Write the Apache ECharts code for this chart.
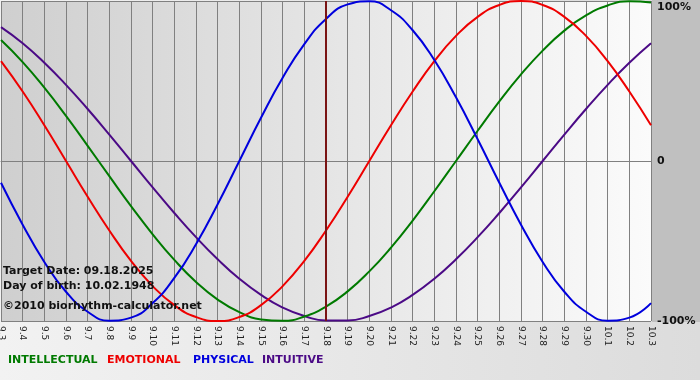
<!DOCTYPE html>
<html>
<head>
<meta charset="utf-8">
<script src="https://cdn.jsdelivr.net/npm/echarts@6/dist/echarts.min.js"></script>
<style>
html,body{margin:0;padding:0;background:#ffffff;}
#chart{width:700px;height:380px;}
</style>
</head>
<body>
<div id="chart"></div>
<script>
var dates = ['9.3','9.4','9.5','9.6','9.7','9.8','9.9','9.10','9.11','9.12','9.13','9.14','9.15','9.16','9.17','9.18','9.19','9.20','9.21','9.22','9.23','9.24','9.25','9.26','9.27','9.28','9.29','9.30','10.1','10.2','10.3'];
var intellectual = [0.756,0.618,0.458,0.282,0.095,-0.095,-0.282,-0.458,-0.618,-0.756,-0.866,-0.945,-0.990,-0.999,-0.972,-0.910,-0.815,-0.690,-0.541,-0.372,-0.189,0,0.189,0.372,0.541,0.690,0.815,0.910,0.972,0.999,0.990];
var emotional = [0.624,0.434,0.223,0,-0.223,-0.434,-0.624,-0.782,-0.901,-0.975,-1,-0.975,-0.901,-0.782,-0.624,-0.434,-0.223,0,0.223,0.434,0.624,0.782,0.901,0.975,1,0.975,0.901,0.782,0.624,0.434,0.223];
var physical = [-0.136,-0.398,-0.631,-0.817,-0.942,-0.998,-0.979,-0.888,-0.731,-0.520,-0.270,0,0.270,0.520,0.731,0.888,0.979,0.998,0.942,0.817,0.631,0.398,0.136,-0.136,-0.398,-0.631,-0.817,-0.942,-0.998,-0.979,-0.888];
var intuitive = [0.837,0.736,0.614,0.476,0.325,0.165,0,-0.165,-0.325,-0.476,-0.614,-0.736,-0.837,-0.916,-0.969,-0.997,-0.997,-0.969,-0.916,-0.837,-0.736,-0.614,-0.476,-0.325,-0.165,0,0.165,0.325,0.476,0.614,0.736];
var yTickLabels = ['-100%','0','100%'];
var targetDate = '9.18';
var infoLines = ['Target Date: 09.18.2025','Day of birth: 10.02.1948','\u00a92010 biorhythm-calculator.net'];
var legendNames = ['INTELLECTUAL','EMOTIONAL','PHYSICAL','INTUITIVE'];
var colors = ['#007a00','#ee0000','#0000dd','#4b0a86'];

var chart = echarts.init(document.getElementById('chart'), null, {renderer:'canvas'});
var FONT = '"DejaVu Sans", Verdana, sans-serif';

function mkSeries(name, data, color, extra){
  var s = {
    name: name, type: 'line', data: data, smooth: true, showSymbol: false,
    lineStyle: {color: color, width: 2}, itemStyle: {color: color}, z: 3
  };
  if (extra) for (var k in extra) s[k] = extra[k];
  return s;
}

var legendX = [8, 107, 193, 262];
var graphics = [
  {type:'rect', left: 652, top: 0, z: -1, silent: true, shape:{width: 48, height: 322}, style:{fill:'#c0c0c0'}},
  {type:'text', left: 3, top: 266, z: 10, style:{text: infoLines[0], font: 'bold 11px ' + FONT, fill:'#111'}},
  {type:'text', left: 3, top: 281, z: 10, style:{text: infoLines[1], font: 'bold 11px ' + FONT, fill:'#111'}},
  {type:'text', left: 3, top: 301, z: 10, style:{text: infoLines[2], font: 'bold 11px ' + FONT, fill:'#111'}}
];
for (var i = 0; i < legendNames.length; i++) {
  graphics.push({type:'text', left: legendX[i], top: 355, z: 10,
    style:{text: legendNames[i], font: 'bold 11px ' + FONT, fill: colors[i]}});
}

var option = {
  animation: false,
  backgroundColor: {type:'linear', x:0, y:0, x2:1, y2:0, colorStops:[{offset:0,color:'#f2f2f2'},{offset:1,color:'#dcdcdc'}]},
  grid: {
    left: 1, right: 49, top: 1, bottom: 59, show: true, borderWidth: 0,
    outerBoundsMode: 'none', containLabel: false,
    backgroundColor: {type:'linear', x:0, y:0, x2:1, y2:0, colorStops:[{offset:0,color:'#cfcfcf'},{offset:1,color:'#fbfbfb'}]}
  },
  xAxis: {
    type: 'category', data: dates, boundaryGap: false,
    axisLine: {show: true, lineStyle: {color: '#808080'}},
    axisTick: {show: true, length: 4, interval: 0, lineStyle: {color: '#808080'}},
    splitLine: {show: true, interval: 0, lineStyle: {color: '#808080', width: 1}},
    axisLabel: {rotate: -90, interval: 0, fontSize: 9, margin: 5, color: '#222', fontFamily: FONT}
  },
  yAxis: {
    type: 'value', min: -1, max: 1, interval: 1, position: 'right',
    axisLine: {show: false}, axisTick: {show: false},
    splitLine: {show: true, lineStyle: {color: '#808080', width: 1}},
    axisLabel: {
      margin: 6, fontSize: 11, fontWeight: 'bold', color: '#111', fontFamily: FONT,
      formatter: function(v){ return v === 1 ? '{t|' + yTickLabels[2] + '}' : (v === 0 ? yTickLabels[1] : yTickLabels[0]); },
      rich: {t: {fontSize: 11, fontWeight: 'bold', color: '#111', fontFamily: FONT, padding: [13, 0, 0, 0]}}
    }
  },
  graphic: graphics,
  series: [
    mkSeries(legendNames[3], intuitive, colors[3]),
    mkSeries(legendNames[0], intellectual, colors[0]),
    mkSeries(legendNames[1], emotional, colors[1]),
    mkSeries(legendNames[2], physical, colors[2], {
      markLine: {silent: true, symbol: ['none','none'], label: {show: false},
        lineStyle: {color: '#7a1414', width: 2, type: 'solid'},
        data: [{xAxis: targetDate}]}
    })
  ]
};
chart.setOption(option);
</script>
</body>
</html>
